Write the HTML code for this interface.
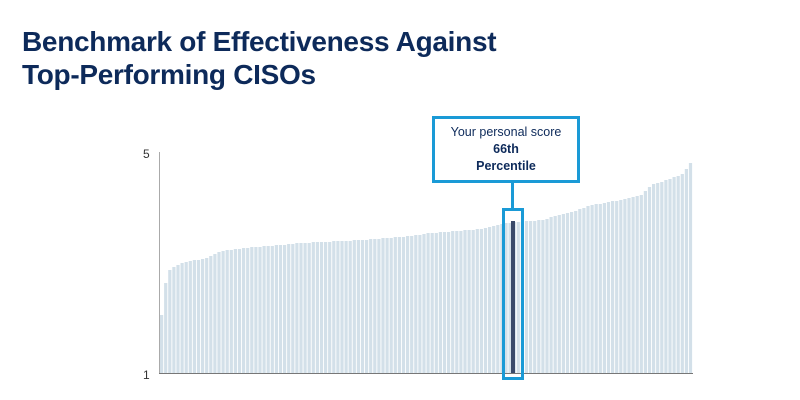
<!DOCTYPE html>
<html><head><meta charset="utf-8"><style>
body{margin:0;width:800px;height:400px;background:#fff;overflow:hidden;font-family:"Liberation Sans",sans-serif;}
h1{position:absolute;left:22px;top:25px;margin:0;font-size:28px;line-height:33px;color:#0d2a5a;font-weight:bold;letter-spacing:-0.3px;}
</style></head><body>
<h1>Benchmark of Effectiveness Against<br>Top-Performing CISOs</h1>
<svg id="s" width="800" height="400" style="position:absolute;left:0;top:0">
<text x="143" y="158" font-size="12" fill="#333" font-family="Liberation Sans">5</text>
<text x="143" y="379" font-size="12" fill="#333" font-family="Liberation Sans">1</text>
<g id="bars"></g>
<line x1="159.5" y1="152" x2="159.5" y2="374" stroke="#aaa" stroke-width="1"/>
<line x1="159" y1="373.5" x2="693" y2="373.5" stroke="#777" stroke-width="1"/>
<rect x="503.5" y="209.5" width="19" height="169" fill="none" stroke="#1a9ad6" stroke-width="3"/>
<line x1="512.5" y1="182" x2="512.5" y2="209" stroke="#1a9ad6" stroke-width="3"/>
<rect x="511" y="221" width="4" height="152" fill="#3a4a6a"/>
<rect x="433.5" y="117.5" width="145" height="64" fill="#fff" stroke="#1a9ad6" stroke-width="3"/>
<text x="506" y="136" font-size="12.5" fill="#0d2a5a" text-anchor="middle" font-family="Liberation Sans">Your personal score</text>
<text x="506" y="153" font-size="12.5" font-weight="bold" fill="#0d2a5a" text-anchor="middle" font-family="Liberation Sans">66th</text>
<text x="506" y="170" font-size="12.5" font-weight="bold" fill="#0d2a5a" text-anchor="middle" font-family="Liberation Sans">Percentile</text>
</svg>
<script>
var pts=[[160,315],[164,283],[168,270],[172,267],[180,263],[205,258],[220,251],[235,249],[255,247],[300,243],[360,240],[400,237],[430,233],[480,229],[505,223],[540,220],[570,212],[590,205],[620,200],[640,195],[650,185],[680,175],[690,162]];
function f(x){for(var i=0;i<pts.length-1;i++){if(x<=pts[i+1][0]){var a=pts[i],b=pts[i+1];return a[1]+(b[1]-a[1])*(x-a[0])/(b[0]-a[0]);}}return 162;}
var g=document.getElementById('bars'),h='';
for(var x=160;x<692;x+=4.1){var y=Math.round(f(x));h+='<rect x="'+x.toFixed(1)+'" y="'+y+'" width="3.2" height="'+(373-y)+'" fill="#d3e0e9"/>';}
g.innerHTML=h;
</script>
</body></html>
